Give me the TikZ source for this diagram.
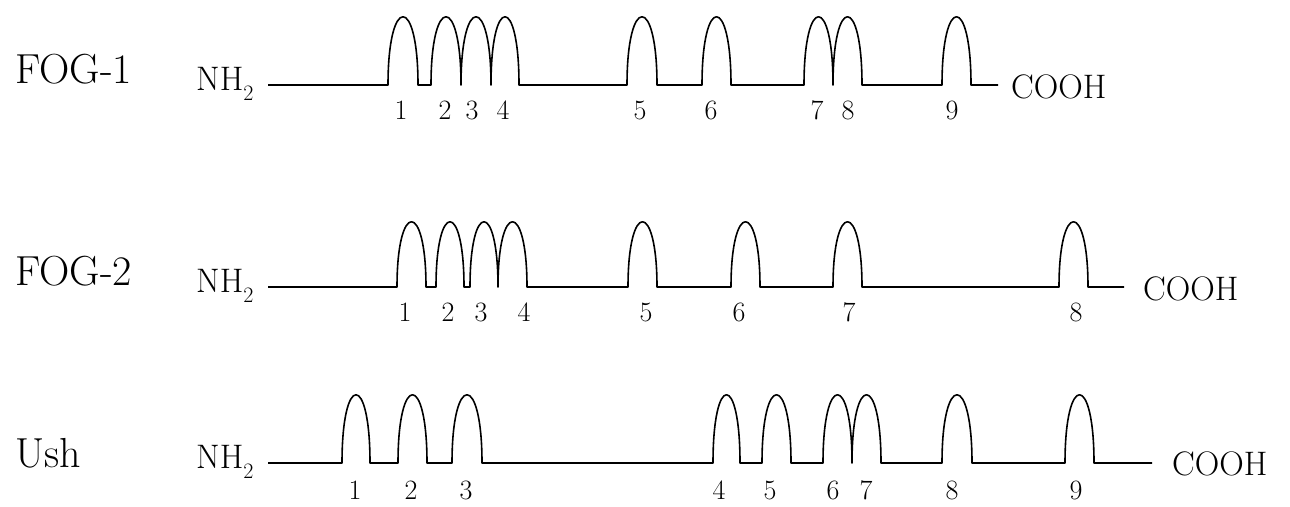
\documentclass[tikz,border=0pt]{standalone}
\newcommand\subtwo{\raisebox{-10pt}{\fontsize{22}{24}\selectfont 2}}
\tikzset{
  fline/.style={line width=1.6pt, line join=round},
  lab/.style={font=\fontsize{42}{44}\selectfont, anchor=base west, inner sep=0pt},
  term/.style={font=\fontsize{34}{36}\selectfont, anchor=base west, inner sep=0pt},
  num/.style={font=\fontsize{28}{30}\selectfont, anchor=base, inner sep=0pt},
}
\begin{document}
\begin{tikzpicture}[x=1pt,y=-1pt]
\useasboundingbox[fill=white] (0,0) rectangle (1290,506);

% ---------- FOG-1 ----------
\node[lab] (fog1) at (15,83) {FOG-1};
\node[term] (nh1) at (196,90) {NH\subtwo};
\coordinate (s1) at (268,85);
\coordinate (e1) at (998,85);
\node[term] (co1) at (1011,98) {COOH};
\draw[fline] (s1)
  \foreach \a/\b in {388/418,431/461,461/491,491/519,627/657,702/731,804/833,833/862,942/971}
  { -- (\a,85) .. controls (\a,-6) and (\b,-6) .. (\b,85) } -- (e1);
\foreach \n/\x in {1/401,2/445,3/472,4/503,5/640,6/711,7/817,8/848,9/952}
  \node[num] (a\n) at (\x,119) {\n};

% ---------- FOG-2 ----------
\node[lab] (fog2) at (15,285) {FOG-2};
\node[term] (nh2) at (196,292) {NH\subtwo};
\coordinate (s2) at (268,287);
\coordinate (e2) at (1124,287);
\node[term] (co2) at (1143,300) {COOH};
\draw[fline] (s2)
  \foreach \a/\b in {397/426,436/464,470/498,498/527,628/657,731/760,833/862,1059/1088}
  { -- (\a,287) .. controls (\a,200) and (\b,200) .. (\b,287) } -- (e2);
\foreach \n/\x in {1/405,2/448,3/481,4/524,5/646,6/739,7/849,8/1076}
  \node[num] (b\n) at (\x,321) {\n};

% ---------- Ush ----------
\node[lab] (ush) at (15,467) {Ush};
\node[term] (nh3) at (196,468) {NH\subtwo};
\coordinate (s3) at (268,463);
\coordinate (e3) at (1152,463);
\node[term] (co3) at (1172,475) {COOH};
\draw[fline] (s3)
  \foreach \a/\b in {342/370,398/427,452/482,713/740,762/791,823/852,852/881,942/972,1065/1094}
  { -- (\a,463) .. controls (\a,372) and (\b,372) .. (\b,463) } -- (e3);
\foreach \n/\x in {1/355,2/411,3/466,4/719,5/770,6/833,7/866,8/952,9/1076}
  \node[num] (c\n) at (\x,499) {\n};
\end{tikzpicture}
\end{document}
